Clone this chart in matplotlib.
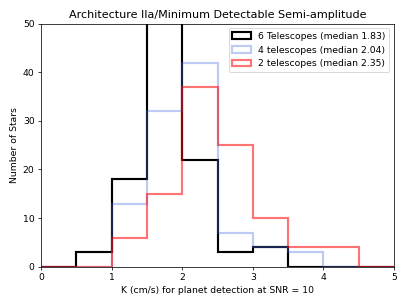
import numpy as np
import matplotlib
matplotlib.use("Agg")
from matplotlib import pyplot as plt

edges = np.arange(0, 5.5, 0.5)
centers = edges[:-1] + 0.25

counts_6 = [0, 3, 18, 51, 22, 3, 4, 0, 0, 0]
counts_4 = [0, 0, 13, 32, 42, 7, 4, 3, 0, 0]
counts_2 = [0, 0, 6, 15, 37, 25, 10, 4, 4, 0]

labels = ["6 Telescopes (median 1.83)",
          "4 telescopes (median 2.04)",
          "2 telescopes (median 2.35)"]

W = 6.08
fig = plt.figure(figsize=(W, W * 305 / 407), dpi=407 / W)
ax = fig.add_subplot(111)

ax.hist(centers, bins=edges, weights=counts_6, histtype='step',
        color='k', lw=2.3, label=labels[0])
ax.hist(centers, bins=edges, weights=counts_4, histtype='step',
        color='royalblue', alpha=0.35, lw=2.3, label=labels[1])
ax.hist(centers, bins=edges, weights=counts_2, histtype='step',
        color='r', alpha=0.55, lw=2.3, label=labels[2])

ax.set_xlim(0, 5)
ax.set_ylim(0, 50)
ax.set_xlabel("K (cm/s) for planet detection at SNR = 10")
ax.set_ylabel("Number of Stars")
ax.set_title("Architecture IIa/Minimum Detectable Semi-amplitude")
ax.legend(loc='upper right')

plt.tight_layout()
plt.savefig("out.png", dpi=407 / W)
